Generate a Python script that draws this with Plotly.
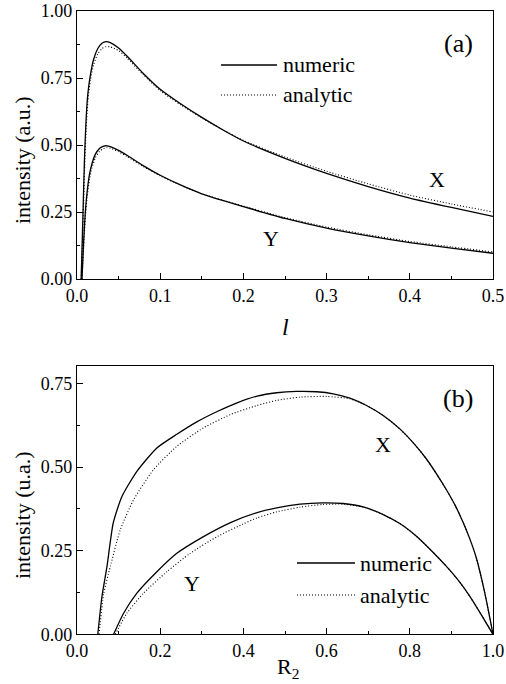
import plotly.graph_objects as go

W, H = 506, 684

# ---------------- Panel (a): intensity vs l ----------------
a_x_X = [0.005, 0.007, 0.009, 0.011, 0.013, 0.016, 0.020, 0.025, 0.030, 0.035, 0.040, 0.050, 0.060,
         0.080, 0.100, 0.125, 0.150, 0.175, 0.200, 0.250, 0.300, 0.350, 0.400, 0.450, 0.500]
a_X_num = [0.0, 0.22, 0.45, 0.60, 0.69, 0.76, 0.82, 0.86, 0.880, 0.886, 0.882, 0.862, 0.832,
           0.766, 0.708, 0.653, 0.603, 0.557, 0.515, 0.450, 0.394, 0.345, 0.302, 0.267, 0.234]
a_X_ana = [0.0, 0.18, 0.40, 0.56, 0.66, 0.74, 0.80, 0.84, 0.860, 0.867, 0.866, 0.852, 0.825,
           0.761, 0.703, 0.649, 0.601, 0.557, 0.517, 0.455, 0.402, 0.355, 0.313, 0.280, 0.250]

a_x_Y = [0.006, 0.008, 0.010, 0.012, 0.015, 0.018, 0.022, 0.027, 0.032, 0.036, 0.040, 0.050, 0.060,
         0.080, 0.100, 0.125, 0.150, 0.175, 0.200, 0.250, 0.300, 0.350, 0.400, 0.450, 0.500]
a_Y_num = [0.0, 0.14, 0.25, 0.32, 0.39, 0.43, 0.465, 0.487, 0.496, 0.497, 0.494, 0.480, 0.462,
           0.422, 0.387, 0.350, 0.318, 0.293, 0.270, 0.226, 0.190, 0.161, 0.136, 0.115, 0.096]
a_Y_ana = [0.0, 0.12, 0.23, 0.30, 0.37, 0.415, 0.452, 0.476, 0.487, 0.490, 0.488, 0.475, 0.457,
           0.419, 0.385, 0.349, 0.318, 0.294, 0.272, 0.229, 0.194, 0.165, 0.140, 0.120, 0.101]

# ---------------- Panel (b): intensity vs R2 ----------------
b_x_Xn = [0.050, 0.060, 0.072, 0.087, 0.108, 0.144, 0.192, 0.240, 0.288, 0.337, 0.385, 0.433, 0.480,
          0.528, 0.576, 0.616, 0.656, 0.696, 0.736, 0.776, 0.810, 0.840, 0.865, 0.888, 0.910, 0.928,
          0.945, 0.960, 0.980, 1.000]
b_X_num = [0.0, 0.113, 0.202, 0.332, 0.412, 0.487, 0.557, 0.598, 0.635, 0.666, 0.692, 0.712, 0.722,
           0.726, 0.725, 0.719, 0.706, 0.684, 0.654, 0.614, 0.570, 0.524, 0.478, 0.432, 0.383, 0.335,
           0.283, 0.228, 0.125, 0.0]
b_x_Xa = [0.053, 0.064, 0.080, 0.104, 0.136, 0.184, 0.240, 0.304, 0.369, 0.433, 0.480, 0.536, 0.600,
          0.656, 0.696, 0.736, 0.776, 0.810, 0.840, 0.865, 0.888, 0.910, 0.928, 0.945, 0.960, 0.980,
          1.000]
b_X_ana = [0.0, 0.12, 0.202, 0.312, 0.402, 0.492, 0.562, 0.617, 0.657, 0.684, 0.699, 0.709, 0.711,
           0.704, 0.684, 0.654, 0.614, 0.570, 0.524, 0.478, 0.432, 0.383, 0.335, 0.283, 0.228, 0.125,
           0.0]

b_x_Yn = [0.088, 0.112, 0.144, 0.192, 0.240, 0.304, 0.369, 0.433, 0.480, 0.536, 0.590, 0.640, 0.690,
          0.736, 0.776, 0.816, 0.855, 0.888, 0.920, 0.944, 0.972, 1.000]
b_Y_num = [0.0, 0.063, 0.123, 0.187, 0.242, 0.292, 0.334, 0.364, 0.378, 0.389, 0.393, 0.391, 0.380,
           0.358, 0.331, 0.293, 0.246, 0.203, 0.156, 0.114, 0.058, 0.0]
b_x_Ya = [0.092, 0.120, 0.160, 0.216, 0.272, 0.337, 0.400, 0.433, 0.480, 0.536, 0.590, 0.640, 0.690,
          0.736, 0.776, 0.816, 0.855, 0.888, 0.920, 0.944, 0.972, 1.000]
b_Y_ana = [0.0, 0.063, 0.123, 0.187, 0.242, 0.292, 0.330, 0.348, 0.366, 0.380, 0.388, 0.389, 0.380,
           0.358, 0.331, 0.293, 0.246, 0.203, 0.156, 0.114, 0.058, 0.0]

FONT = "'Liberation Serif', 'Times New Roman', Times, serif"
SOLID = dict(color="black", width=1.3, shape="spline", smoothing=0.6)
DOT = dict(color="black", width=1.1, dash="1px,2px", shape="spline", smoothing=0.6)


def px(x):
    return x / W


def py(y):
    return 1 - y / H


fig = go.Figure()
# panel (a)
fig.add_trace(go.Scatter(x=a_x_X, y=a_X_num, mode="lines", line=SOLID, xaxis="x", yaxis="y"))
fig.add_trace(go.Scatter(x=a_x_X, y=a_X_ana, mode="lines", line=DOT, xaxis="x", yaxis="y"))
fig.add_trace(go.Scatter(x=a_x_Y, y=a_Y_num, mode="lines", line=SOLID, xaxis="x", yaxis="y"))
fig.add_trace(go.Scatter(x=a_x_Y, y=a_Y_ana, mode="lines", line=DOT, xaxis="x", yaxis="y"))
# panel (b)
fig.add_trace(go.Scatter(x=b_x_Xn, y=b_X_num, mode="lines", line=SOLID, xaxis="x2", yaxis="y2"))
fig.add_trace(go.Scatter(x=b_x_Xa, y=b_X_ana, mode="lines", line=DOT, xaxis="x2", yaxis="y2"))
fig.add_trace(go.Scatter(x=b_x_Yn, y=b_Y_num, mode="lines", line=SOLID, xaxis="x2", yaxis="y2"))
fig.add_trace(go.Scatter(x=b_x_Ya, y=b_Y_ana, mode="lines", line=DOT, xaxis="x2", yaxis="y2"))

axis_common = dict(
    showline=True, linecolor="black", linewidth=1.3, mirror=True,
    ticks="inside", ticklen=6, tickwidth=1, tickcolor="black",
    showgrid=False, zeroline=False, automargin=False,
    tickfont=dict(family=FONT, size=18, color="black"),
)

xdom = [px(77), px(493)]
fig.update_layout(
    width=W, height=H,
    margin=dict(l=0, r=0, t=0, b=0, autoexpand=False),
    paper_bgcolor="white", plot_bgcolor="white",
    showlegend=False,
    font=dict(family=FONT, color="black"),
    xaxis=dict(domain=xdom, range=[0, 0.5], tickvals=[0, 0.1, 0.2, 0.3, 0.4, 0.5],
               ticktext=["0.0", "0.1", "0.2", "0.3", "0.4", "0.5"],
               minor=dict(ticks="inside", ticklen=3, dtick=0.05, tick0=0, tickcolor="black"),
               anchor="y", **axis_common),
    yaxis=dict(domain=[py(279), py(11)], range=[0, 1], tickvals=[0, 0.25, 0.5, 0.75, 1.0],
               ticktext=["0.00", "0.25", "0.50", "0.75", "1.00"],
               minor=dict(ticks="inside", ticklen=3, dtick=0.125, tick0=0, tickcolor="black"),
               anchor="x", **axis_common),
    xaxis2=dict(domain=xdom, range=[0, 1], tickvals=[0, 0.2, 0.4, 0.6, 0.8, 1.0],
                ticktext=["0.0", "0.2", "0.4", "0.6", "0.8", "1.0"],
                minor=dict(ticks="inside", ticklen=3, dtick=0.1, tick0=0, tickcolor="black"),
                anchor="y2", **axis_common),
    yaxis2=dict(domain=[py(634.3), py(366)], range=[0, 0.802], tickvals=[0, 0.25, 0.5, 0.75],
                ticktext=["0.00", "0.25", "0.50", "0.75"],
                minor=dict(ticks="inside", ticklen=3, dtick=0.125, tick0=0, tickcolor="black"),
                anchor="x2", **axis_common),
)

ann = []


def text(x, y, s, size=22, **kw):
    d = dict(x=px(x), y=py(y), xref="paper", yref="paper", text=s, showarrow=False,
             xanchor="center", yanchor="middle",
             font=dict(family=FONT, size=size, color="black"))
    d.update(kw)
    ann.append(d)


# axis titles
text(22, 160, "intensity (a.u.)", textangle=-90)
text(22, 515, "intensity (u.a.)", textangle=-90)
text(285, 327, "<i>l</i>", size=24)
text(288, 668, "R<sub>2</sub>", size=22)
# panel labels
text(458, 43, "(a)", size=26)
text(458, 398, "(b)", size=26)
# curve labels
text(437, 180, "X")
text(271, 239, "Y")
text(383, 445, "X")
text(192, 583, "Y")
# legend texts
text(281, 64, "numeric", xanchor="left")
text(281, 95, "analytic", xanchor="left")
text(358, 563, "numeric", xanchor="left")
text(358, 595, "analytic", xanchor="left")

fig.update_layout(annotations=ann)

shapes = [
    dict(type="line", xref="paper", yref="paper", x0=px(221), x1=px(277), y0=py(65), y1=py(65),
         line=dict(color="black", width=1.3)),
    dict(type="line", xref="paper", yref="paper", x0=px(221), x1=px(277), y0=py(95), y1=py(95),
         line=dict(color="black", width=1.1, dash="1px,2px")),
    dict(type="line", xref="paper", yref="paper", x0=px(297), x1=px(355), y0=py(563), y1=py(563),
         line=dict(color="black", width=1.3)),
    dict(type="line", xref="paper", yref="paper", x0=px(297), x1=px(355), y0=py(595), y1=py(595),
         line=dict(color="black", width=1.1, dash="1px,2px")),
]
fig.update_layout(shapes=shapes)

fig.write_html("out.html")
